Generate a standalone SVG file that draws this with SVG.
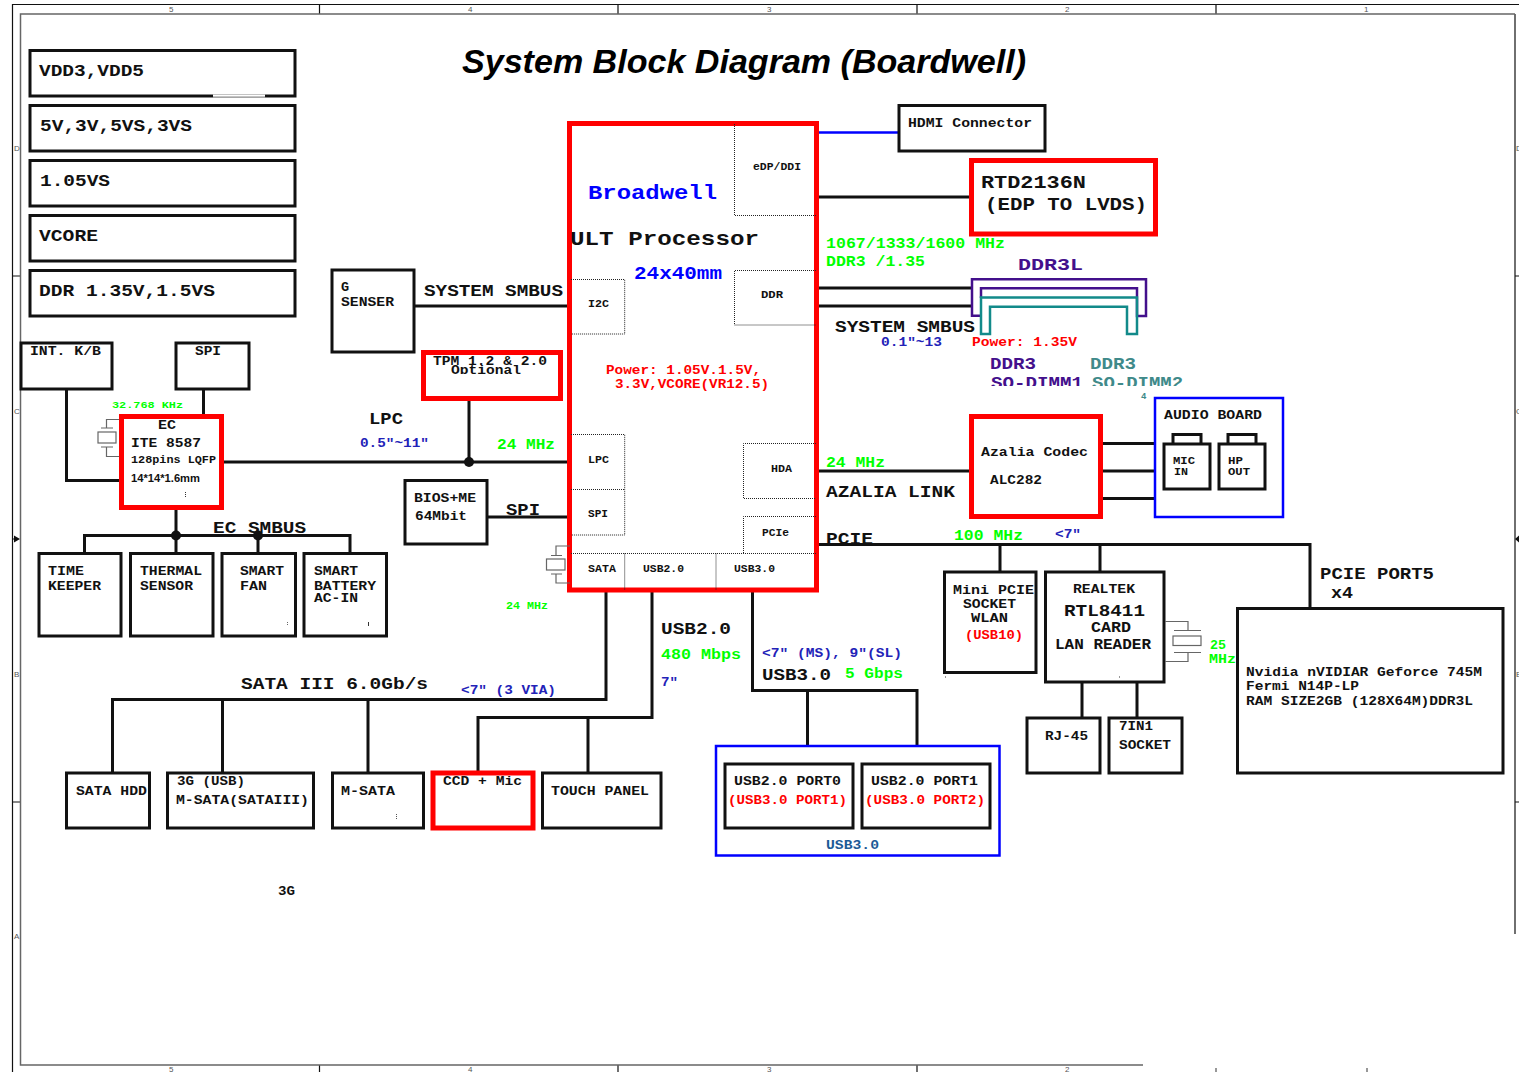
<svg xmlns="http://www.w3.org/2000/svg" width="1519" height="1072" viewBox="0 0 1519 1072">
<style>
text{font-family:"Liberation Mono","DejaVu Sans Mono",monospace;font-weight:bold;fill:#111}
.s9{font-size:9px}.s10{font-size:10.5px}.s11{font-size:11.5px}.s12{font-size:12.5px}.s13{font-size:13.5px}.s14{font-size:14.5px}.s16{font-size:16px}.s17{font-size:17px}.s19{font-size:19px}.s21{font-size:21px}
.g{fill:#0f0}.r{fill:#f00}.b{fill:#00f}.n{fill:#2222b8}.p{fill:#43108c}.t{fill:#3f8a8a}.nv{fill:#1c5a96}
.lb{font-family:"Liberation Sans",Arial,sans-serif;font-size:8px;font-weight:normal;fill:#555}
.box{fill:#fff;stroke:#111;stroke-width:3}
.red{fill:#fff;stroke:#f00;stroke-width:5}
.blu{fill:#fff;stroke:#00f;stroke-width:2.5}
.w{fill:none;stroke:#111;stroke-width:3}
.xt{fill:none;stroke:#666;stroke-width:1.2}
.dot{fill:none;stroke:#222;stroke-width:1;stroke-dasharray:1 1}
.fr{fill:none;stroke:#666;stroke-width:1.5}
.fk{fill:none;stroke:#111;stroke-width:1.2}
</style>
<defs>
<clipPath id="c1"><rect x="425" y="354" width="134" height="20"/></clipPath>
<clipPath id="c2"><rect x="985" y="352" width="205" height="34"/></clipPath>
</defs>
<rect width="1519" height="1072" fill="#fff"/>
<g id="frame">
<path class="fk" d="M12.5 1072V4.5H1519M319.5 4V14M618 4V14M917 4V14M1216 4V14M319.5 1065V1072M618 1065V1072M917 1065V1072M12 276H20M12 802H20M1515 276H1519M1515 802H1519M1515 14V934"/>
<path class="fr" d="M1515 14H20.5V1065H1143"/>
<path d="M1216 1068v4M1367 1068v4" stroke="#777" stroke-width="1.5"/>
<path d="M20 539l-6-3.500v7zM1515 539l4-3.500v7z" fill="#111"/><path d="M12 539h5" stroke="#111"/>
<text class="lb" x="169" y="12">5</text><text class="lb" x="468" y="12">4</text><text class="lb" x="767" y="12">3</text><text class="lb" x="1065" y="12">2</text><text class="lb" x="1364" y="12">1</text>
<text class="lb" x="169" y="1072">5</text><text class="lb" x="468" y="1072">4</text><text class="lb" x="767" y="1072">3</text><text class="lb" x="1065" y="1072">2</text>
<text class="lb" x="14" y="151">D</text><text class="lb" x="14" y="414">C</text><text class="lb" x="14" y="677">B</text><text class="lb" x="14" y="939">A</text>
<text class="lb" x="1516" y="151">D</text><text class="lb" x="1516" y="414">C</text><text class="lb" x="1516" y="677">B</text>
</g>
<text id="title" x="462" y="73" textLength="564" lengthAdjust="spacingAndGlyphs" style="font-family:'Liberation Sans',Arial,sans-serif;font-size:34px;font-style:italic;fill:#000">System Block Diagram (Boardwell)</text>
<g id="connectors">
<path class="w" d="M817 197H972M817 288H972M817 306H972M817 471H972M1101 443.500H1155M1101 471H1155M1101 498.500H1155"/>
<path class="w" d="M817 544.500H1310V608M1000 544.500V572M1100 544.500V572M1082 682V718M1137 682V718"/>
<path d="M817 132.500H899" stroke="#00f" stroke-width="2.500" fill="none"/>
<path class="w" d="M414 306H570M487 517H570M224 462H570M469 399V462M203.500 389V416M66.500 389V480.500H121M176 510V553M84.500 553V535.500H350V553M258 535.500V553"/>
<path class="w" d="M606 590V699.500H112.500V773M222.500 699.500V773M368 699.500V773M652 590V717.500H478V771M588 717.500V773M752.500 590V690.500H917V746M807.500 690.500V746"/>
<circle cx="469" cy="462" r="5" fill="#111"/><circle cx="176" cy="535.500" r="5" fill="#111"/><circle cx="258" cy="535.500" r="5" fill="#111"/>
</g>
<g id="pwr1"><rect class="box" x="30" y="50.500" width="265" height="45.500"/><path d="M213 96H265" stroke="#fff" stroke-width="3"/><path d="M213 97H265" stroke="#888"/><text class="s16" x="39" y="76" textLength="105" lengthAdjust="spacingAndGlyphs">VDD3,VDD5</text></g>
<g id="pwr2"><rect class="box" x="30" y="105.500" width="265" height="45.500"/><text class="s16" x="40" y="131" textLength="152" lengthAdjust="spacingAndGlyphs">5V,3V,5VS,3VS</text></g>
<g id="pwr3"><rect class="box" x="30" y="160.500" width="265" height="45.500"/><text class="s16" x="40" y="186" textLength="70" lengthAdjust="spacingAndGlyphs">1.05VS</text></g>
<g id="pwr4"><rect class="box" x="30" y="215.500" width="265" height="45.500"/><text class="s16" x="39" y="241" textLength="59" lengthAdjust="spacingAndGlyphs">VCORE</text></g>
<g id="pwr5"><rect class="box" x="30" y="270.500" width="265" height="45.500"/><text class="s16" x="39" y="296" textLength="176" lengthAdjust="spacingAndGlyphs">DDR 1.35V,1.5VS</text></g>
<g id="kb"><rect class="box" x="21" y="343" width="91" height="46"/><text class="s13" x="30" y="355" textLength="71" lengthAdjust="spacingAndGlyphs">INT. K/B</text></g>
<g id="spirom"><rect class="box" x="176" y="343" width="73" height="46"/><text class="s13" x="195" y="355" textLength="26" lengthAdjust="spacingAndGlyphs">SPI</text></g>
<g id="gsensor"><rect class="box" x="332" y="270" width="82" height="82"/><text class="s13" x="341" y="291">G</text><text class="s13" x="341" y="306" textLength="53" lengthAdjust="spacingAndGlyphs">SENSER</text></g>
<g id="tpm"><rect class="red" x="423.500" y="352.500" width="137" height="46"/><g clip-path="url(#c1)"><text class="s13" x="433" y="365" textLength="114" lengthAdjust="spacingAndGlyphs">TPM 1.2 &amp; 2.0</text><text class="s13" x="451" y="374" textLength="70" lengthAdjust="spacingAndGlyphs">Optional</text></g></g>
<g id="ec"><rect class="red" x="121.500" y="416.500" width="100" height="91"/>
<path class="xt" d="M119 419.500H106.500V428M101 428H113M119 456.500H106.500V447M101 447H113"/><rect class="xt" x="98" y="432" width="18" height="11"/>
<path d="M185.500 492v6" stroke="#333" stroke-dasharray="1 1"/>
<text class="s12" x="158" y="429" textLength="18" lengthAdjust="spacingAndGlyphs">EC</text><text class="s13" x="131" y="447" textLength="70" lengthAdjust="spacingAndGlyphs">ITE 8587</text><text class="s11" x="131" y="463" textLength="85" lengthAdjust="spacingAndGlyphs">128pins LQFP</text><text x="131" y="482" textLength="69" lengthAdjust="spacingAndGlyphs" style="font-family:'Liberation Sans',Arial,sans-serif;font-size:11.500px">14*14*1.6mm</text>
<text class="s9 g" x="112" y="408" textLength="71" lengthAdjust="spacingAndGlyphs">32.768 KHz</text></g>
<g id="timekeeper"><rect class="box" x="39" y="553.500" width="82" height="82.500"/><text class="s13" x="48" y="575" textLength="36" lengthAdjust="spacingAndGlyphs">TIME</text><text class="s13" x="48" y="590" textLength="53" lengthAdjust="spacingAndGlyphs">KEEPER</text></g>
<g id="thermal"><rect class="box" x="130.500" y="553.500" width="82.500" height="82.500"/><text class="s13" x="140" y="575" textLength="62" lengthAdjust="spacingAndGlyphs">THERMAL</text><text class="s13" x="140" y="590" textLength="53" lengthAdjust="spacingAndGlyphs">SENSOR</text></g>
<g id="fan"><rect class="box" x="222" y="553.500" width="73.500" height="82.500"/><path d="M287.500 622v4" stroke="#666" stroke-dasharray="1 1"/><text class="s13" x="240" y="575" textLength="44" lengthAdjust="spacingAndGlyphs">SMART</text><text class="s13" x="240" y="590" textLength="27" lengthAdjust="spacingAndGlyphs">FAN</text></g>
<g id="battery"><rect class="box" x="304" y="553.500" width="82.500" height="82.500"/><path d="M368.500 622v4" stroke="#333"/><text class="s13" x="314" y="575" textLength="44" lengthAdjust="spacingAndGlyphs">SMART</text><text class="s13" x="314" y="590" textLength="62" lengthAdjust="spacingAndGlyphs">BATTERY</text><text class="s13" x="314" y="602" textLength="44" lengthAdjust="spacingAndGlyphs">AC-IN</text></g>
<g id="bios"><rect class="box" x="405" y="480.500" width="82" height="63.500"/><text class="s13" x="414" y="502" textLength="62" lengthAdjust="spacingAndGlyphs">BIOS+ME</text><text class="s13" x="415" y="520" textLength="52" lengthAdjust="spacingAndGlyphs">64Mbit</text></g>
<g id="cpu"><rect class="red" x="569.500" y="123.500" width="247" height="466.500"/>
<path class="dot" d="M734.500 124V215.500H816M816 270.500H734.500V325H816M571 279.500H624.700V334H571M571 434.500H624.700V535H571M571 489.500H624.700M816 443.500H743.500V498.500H816M816 516.500H743.500V553M571 553.500H816M624.700 553.500V590M716 553.500V590"/>
<path class="xt" d="M570 546H556V555M551 555.500H562M570 583H556V574M551 574H562"/><rect class="xt" x="546.500" y="559" width="18.500" height="11"/>
<text class="s10" x="753" y="170" textLength="48" lengthAdjust="spacingAndGlyphs">eDP/DDI</text><text class="s10" x="761" y="298" textLength="22" lengthAdjust="spacingAndGlyphs">DDR</text><text class="s10" x="588" y="307" textLength="21" lengthAdjust="spacingAndGlyphs">I2C</text><text class="s10" x="588" y="463" textLength="21" lengthAdjust="spacingAndGlyphs">LPC</text><text class="s10" x="588" y="517" textLength="20" lengthAdjust="spacingAndGlyphs">SPI</text><text class="s10" x="771" y="472" textLength="21" lengthAdjust="spacingAndGlyphs">HDA</text><text class="s10" x="762" y="536" textLength="27" lengthAdjust="spacingAndGlyphs">PCIe</text><text class="s10" x="588" y="572" textLength="28" lengthAdjust="spacingAndGlyphs">SATA</text><text class="s10" x="643" y="572" textLength="41" lengthAdjust="spacingAndGlyphs">USB2.0</text><text class="s10" x="734" y="572" textLength="41" lengthAdjust="spacingAndGlyphs">USB3.0</text>
<text class="s21 b" x="588" y="199" textLength="129" lengthAdjust="spacingAndGlyphs">Broadwell</text><text class="s21" x="570" y="245" textLength="189" lengthAdjust="spacingAndGlyphs">ULT Processor</text><text class="s19 b" x="634" y="279" textLength="88" lengthAdjust="spacingAndGlyphs">24x40mm</text>
<text class="s13 r" x="606" y="374" textLength="155" lengthAdjust="spacingAndGlyphs">Power: 1.05V.1.5V,</text><text class="s13 r" x="615" y="388" textLength="154" lengthAdjust="spacingAndGlyphs">3.3V,VCORE(VR12.5)</text></g>
<g id="hdmi"><rect class="box" x="899" y="105.500" width="146" height="45.500"/><text class="s13" x="908" y="127" textLength="124" lengthAdjust="spacingAndGlyphs">HDMI Connector</text></g>
<g id="rtd"><rect class="red" x="971.500" y="160.500" width="184" height="73.500"/><text class="s19" x="981" y="188" textLength="105" lengthAdjust="spacingAndGlyphs">RTD2136N</text><text class="s19" x="985" y="210" textLength="162" lengthAdjust="spacingAndGlyphs">(EDP TO LVDS)</text></g>
<g id="dimm">
<path fill="none" stroke="#43108c" stroke-width="2.500" d="M982 315.700H972V279.300H1146V316H1137V288.300H981V298"/>
<path fill="none" stroke="#128a8a" stroke-width="2.500" d="M981 297.500H1137V334H1127V306.700H990V334H981Z"/>
<text class="s16 p" x="1018" y="270" textLength="65" lengthAdjust="spacingAndGlyphs">DDR3L</text>
<g clip-path="url(#c2)"><text class="s16 p" x="990" y="369" textLength="46" lengthAdjust="spacingAndGlyphs">DDR3</text><text class="s16 p" x="991" y="388" textLength="92" lengthAdjust="spacingAndGlyphs">SO-DIMM1</text><text class="s16 t" x="1090" y="369" textLength="46" lengthAdjust="spacingAndGlyphs">DDR3</text><text class="s16 t" x="1092" y="388" textLength="91" lengthAdjust="spacingAndGlyphs">SO-DIMM2</text></g>
<text class="s9 t" x="1141" y="399">4</text></g>
<g id="codec"><rect class="red" x="971.500" y="416.500" width="129" height="100"/><text class="s13" x="981" y="456" textLength="107" lengthAdjust="spacingAndGlyphs">Azalia Codec</text><text class="s13" x="990" y="484" textLength="52" lengthAdjust="spacingAndGlyphs">ALC282</text></g>
<g id="audio"><rect class="blu" x="1155" y="398" width="128" height="119"/><text class="s13" x="1164" y="419" textLength="98" lengthAdjust="spacingAndGlyphs">AUDIO BOARD</text>
<path class="box" d="M1173 444V434.500H1201V444M1228 444V434.500H1256V444"/><rect class="box" x="1164" y="444" width="46" height="45"/><rect class="box" x="1219" y="444" width="46" height="45"/>
<text class="s11" x="1173" y="464" textLength="22" lengthAdjust="spacingAndGlyphs">MIC</text><text class="s11" x="1174" y="475" textLength="14" lengthAdjust="spacingAndGlyphs">IN</text><text class="s11" x="1228" y="464" textLength="15" lengthAdjust="spacingAndGlyphs">HP</text><text class="s11" x="1228" y="475" textLength="22" lengthAdjust="spacingAndGlyphs">OUT</text></g>
<g id="minipcie"><rect class="box" x="944.500" y="572" width="91.500" height="100.500"/><path d="M945 677h1" stroke="#333"/><text class="s13" x="953" y="594" textLength="81" lengthAdjust="spacingAndGlyphs">Mini PCIE</text><text class="s13" x="963" y="608" textLength="53" lengthAdjust="spacingAndGlyphs">SOCKET</text><text class="s13" x="971" y="622" textLength="37" lengthAdjust="spacingAndGlyphs">WLAN</text><text class="s13 r" x="965" y="639" textLength="58" lengthAdjust="spacingAndGlyphs">(USB10)</text></g>
<g id="realtek"><rect class="box" x="1045.500" y="572" width="118.500" height="110"/><path d="M1119 677h1" stroke="#333"/><text class="s13" x="1073" y="593" textLength="62" lengthAdjust="spacingAndGlyphs">REALTEK</text><text class="s17" x="1064" y="616" textLength="81" lengthAdjust="spacingAndGlyphs">RTL8411</text><text class="s14" x="1091" y="632" textLength="40" lengthAdjust="spacingAndGlyphs">CARD</text><text class="s14" x="1055" y="649" textLength="96" lengthAdjust="spacingAndGlyphs">LAN READER</text>
<path class="xt" d="M1165 621.500H1188V630M1174 630.500H1201M1165 661.500H1188V652M1174 652.500H1201"/><rect class="xt" x="1173" y="636" width="28" height="9.500"/>
<text class="s13 g" x="1210" y="649" textLength="16" lengthAdjust="spacingAndGlyphs">25</text><text class="s13 g" x="1209" y="663" textLength="27" lengthAdjust="spacingAndGlyphs">MHz</text></g>
<g id="rj45"><rect class="box" x="1027" y="718" width="73" height="55"/><text class="s13" x="1045" y="740" textLength="43" lengthAdjust="spacingAndGlyphs">RJ-45</text></g>
<g id="sevenin1"><rect class="box" x="1109" y="718" width="73" height="55"/><text class="s13" x="1119" y="730" textLength="34" lengthAdjust="spacingAndGlyphs">7IN1</text><text class="s13" x="1119" y="749" textLength="52" lengthAdjust="spacingAndGlyphs">SOCKET</text></g>
<g id="nvidia"><rect class="box" x="1237.500" y="608.500" width="265.500" height="164.500"/><text class="s13" x="1246" y="676" textLength="236" lengthAdjust="spacingAndGlyphs">Nvidia nVIDIAR Geforce 745M</text><text class="s13" x="1246" y="690" textLength="113" lengthAdjust="spacingAndGlyphs">Fermi N14P-LP</text><text class="s13" x="1246" y="705" textLength="227" lengthAdjust="spacingAndGlyphs">RAM SIZE2GB (128X64M)DDR3L</text></g>
<g id="hdd"><rect class="box" x="66.500" y="773" width="83" height="55"/><text class="s13" x="76" y="795" textLength="71" lengthAdjust="spacingAndGlyphs">SATA HDD</text></g>
<g id="msata3g"><rect class="box" x="167.500" y="773" width="146" height="55"/><text class="s13" x="177" y="785" textLength="68" lengthAdjust="spacingAndGlyphs">3G (USB)</text><text class="s13" x="176" y="804" textLength="133" lengthAdjust="spacingAndGlyphs">M-SATA(SATAIII)</text></g>
<g id="msata"><rect class="box" x="332.500" y="773" width="91" height="55"/><path d="M396.500 814v5" stroke="#555" stroke-dasharray="1 1"/><text class="s13" x="341" y="795" textLength="54" lengthAdjust="spacingAndGlyphs">M-SATA</text></g>
<g id="ccd"><rect class="red" x="433" y="773" width="100" height="55"/><text class="s13" x="443" y="785" textLength="79" lengthAdjust="spacingAndGlyphs">CCD + Mic</text></g>
<g id="touch"><rect class="box" x="542.500" y="773" width="118.500" height="55"/><text class="s13" x="551" y="795" textLength="98" lengthAdjust="spacingAndGlyphs">TOUCH PANEL</text></g>
<g id="usbports"><rect class="blu" x="716" y="746" width="283.500" height="109.500"/>
<rect class="box" x="725" y="764" width="128" height="64"/><rect class="box" x="862" y="764" width="128" height="64"/>
<text class="s13" x="734" y="785" textLength="107" lengthAdjust="spacingAndGlyphs">USB2.0 PORT0</text><text class="s13 r" x="728" y="804" textLength="119" lengthAdjust="spacingAndGlyphs">(USB3.0 PORT1)</text><text class="s13" x="871" y="785" textLength="107" lengthAdjust="spacingAndGlyphs">USB2.0 PORT1</text><text class="s13 r" x="865" y="804" textLength="120" lengthAdjust="spacingAndGlyphs">(USB3.0 PORT2)</text>
<text class="s13 nv" x="826" y="849" textLength="53" lengthAdjust="spacingAndGlyphs">USB3.0</text></g>
<g id="labels">
<text class="s17" x="424" y="296" textLength="139" lengthAdjust="spacingAndGlyphs">SYSTEM SMBUS</text>
<text class="s17" x="369" y="424" textLength="34" lengthAdjust="spacingAndGlyphs">LPC</text>
<text class="s13 n" x="360" y="447" textLength="69" lengthAdjust="spacingAndGlyphs">0.5"~11"</text>
<text class="s14 g" x="497" y="449" textLength="58" lengthAdjust="spacingAndGlyphs">24 MHz</text>
<text class="s17" x="506" y="515" textLength="34" lengthAdjust="spacingAndGlyphs">SPI</text>
<text class="s16" x="213" y="533" textLength="93" lengthAdjust="spacingAndGlyphs">EC SMBUS</text>
<text class="s10 g" x="506" y="609" textLength="42" lengthAdjust="spacingAndGlyphs">24 MHz</text>
<text class="s14 g" x="826" y="248" textLength="179" lengthAdjust="spacingAndGlyphs">1067/1333/1600 MHz</text>
<text class="s14 g" x="826" y="266" textLength="99" lengthAdjust="spacingAndGlyphs">DDR3 /1.35</text>
<text class="s17" x="835" y="332" textLength="140" lengthAdjust="spacingAndGlyphs">SYSTEM SMBUS</text>
<text class="s13 n" x="881" y="346" textLength="61" lengthAdjust="spacingAndGlyphs">0.1"~13</text>
<text class="s13 r" x="972" y="346" textLength="105" lengthAdjust="spacingAndGlyphs">Power: 1.35V</text>
<text class="s14 g" x="826" y="467" textLength="59" lengthAdjust="spacingAndGlyphs">24 MHz</text>
<text class="s17" x="826" y="497" textLength="129" lengthAdjust="spacingAndGlyphs">AZALIA LINK</text>
<text class="s17" x="826" y="544" textLength="47" lengthAdjust="spacingAndGlyphs">PCIE</text>
<text class="s14 g" x="954" y="540" textLength="69" lengthAdjust="spacingAndGlyphs">100 MHz</text>
<text class="s13 n" x="1055" y="538" textLength="26" lengthAdjust="spacingAndGlyphs">&lt;7"</text>
<text class="s16" x="1320" y="579" textLength="114" lengthAdjust="spacingAndGlyphs">PCIE PORT5</text>
<text class="s16" x="1331" y="598" textLength="22" lengthAdjust="spacingAndGlyphs">x4</text>
<text class="s16" x="241" y="689" textLength="187" lengthAdjust="spacingAndGlyphs">SATA III 6.0Gb/s</text>
<text class="s13 n" x="461" y="694" textLength="95" lengthAdjust="spacingAndGlyphs">&lt;7" (3 VIA)</text>
<text class="s16" x="661" y="634" textLength="70" lengthAdjust="spacingAndGlyphs">USB2.0</text>
<text class="s14 g" x="661" y="659" textLength="80" lengthAdjust="spacingAndGlyphs">480 Mbps</text>
<text class="s13 n" x="661" y="686" textLength="17" lengthAdjust="spacingAndGlyphs">7"</text>
<text class="s13 n" x="762" y="657" textLength="140" lengthAdjust="spacingAndGlyphs">&lt;7" (MS), 9"(SL)</text>
<text class="s16" x="762" y="680" textLength="69" lengthAdjust="spacingAndGlyphs">USB3.0</text>
<text class="s14 g" x="845" y="678" textLength="58" lengthAdjust="spacingAndGlyphs">5 Gbps</text>
<text class="s12" x="278" y="895" textLength="17" lengthAdjust="spacingAndGlyphs">3G</text>
</g>
</svg>
